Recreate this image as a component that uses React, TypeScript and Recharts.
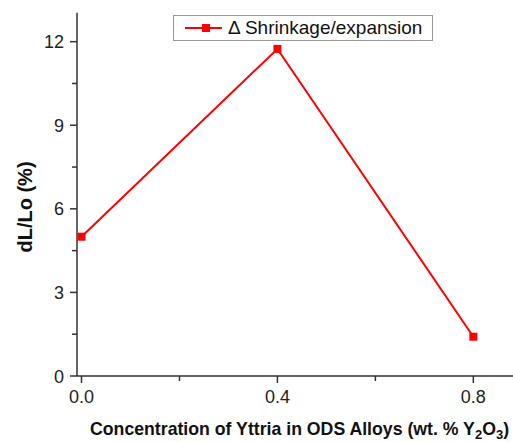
import { LineChart, Line, XAxis, YAxis, Label } from 'recharts'

const concentrations = [0, 0.4, 0.8]
const shrinkage = [5.0, 11.74, 1.41]
const xTicks = [0, 0.2, 0.4, 0.6, 0.8]
const xLabeled = [0, 0.4, 0.8]
const yTicks = [0, 1.5, 3, 4.5, 6, 7.5, 9, 10.5, 12]
const yLabeled = [0, 3, 6, 9, 12]
const seriesName = 'Δ Shrinkage/expansion'

const data = concentrations.map((c, i) => ({ x: c, y: shrinkage[i] }))

const FONT = 'Arial, "Liberation Sans", sans-serif'
const AXIS = '#333333'
const RED = '#ff0000'

function XTick({ x, y, payload }: any) {
  const major = xLabeled.includes(payload.value)
  return (
    <g>
      <line x1={x} x2={x} y1={y} y2={y + (major ? 7 : 5)} stroke={AXIS} strokeWidth={1.5} />
      {major && (
        <text x={x} y={y + 27} textAnchor="middle" fontSize={18} fontFamily={FONT} fill="#222">
          {payload.value.toFixed(1)}
        </text>
      )}
    </g>
  )
}

function YTick({ x, y, payload }: any) {
  const major = yLabeled.includes(payload.value)
  return (
    <g>
      <line x1={x} x2={x - (major ? 7 : 5)} y1={y} y2={y} stroke={AXIS} strokeWidth={1.5} />
      {major && (
        <text x={x - 13} y={y + 6.5} textAnchor="end" fontSize={18} fontFamily={FONT} fill="#222">
          {payload.value}
        </text>
      )}
    </g>
  )
}

function Square({ cx, cy }: any) {
  if (cx == null || cy == null) return null
  return <rect x={cx - 4} y={cy - 4} width={8} height={8} fill={RED} />
}

function LegendBox() {
  return (
    <div
      style={{
        position: 'absolute',
        left: 173,
        top: 14.7,
        width: 258,
        height: 24,
        border: '1px solid #999',
        background: '#fff',
        display: 'flex',
        alignItems: 'center',
        fontFamily: FONT,
        fontSize: 19,
        color: '#111',
        whiteSpace: 'nowrap',
      }}
    >
      <svg width={52} height={24} style={{ flex: 'none' }}>
        <line x1={11} x2={48} y1={12} y2={12} stroke={RED} strokeWidth={2} />
        <rect x={28} y={8} width={8} height={8} fill={RED} />
      </svg>
      <span style={{ marginLeft: 2 }}>{seriesName}</span>
    </div>
  )
}

function XTitle() {
  return (
    <text x={90} y={435} fontSize={17.7} fontWeight="bold" fontFamily={FONT} fill="#111">
      Concentration of Yttria in ODS Alloys (wt. % Y
      <tspan fontSize={13} dy={3.5}>2</tspan>
      <tspan dy={-3.5}>O</tspan>
      <tspan fontSize={13} dy={3.5}>3</tspan>
      <tspan dy={-3.5}>)</tspan>
    </text>
  )
}

function YTitle() {
  return (
    <text
      x={0}
      y={0}
      transform="translate(32, 207) rotate(-90)"
      textAnchor="middle"
      fontSize={20}
      fontWeight="bold"
      fontFamily={FONT}
      fill="#111"
    >
      dL/Lo (%)
    </text>
  )
}

export default function App() {
  return (
    <div style={{ position: 'absolute', left: 0, top: 0, width: 513, height: 442, background: '#fff' }}>
      <LineChart width={513} height={442} data={data} margin={{ top: 12.7, right: 0, bottom: 0, left: 0 }}>
        <XAxis
          dataKey="x"
          type="number"
          domain={[-0.0092, 0.881]}
          ticks={xTicks}
          interval={0}
          allowDataOverflow
          height={66}
          stroke={AXIS}
          strokeWidth={1.5}
          tickLine={false}
          tickSize={0}
          tickMargin={0}
          tick={<XTick />}
        >
          <Label content={<XTitle />} />
        </XAxis>
        <YAxis
          type="number"
          domain={[0, 13.04]}
          ticks={yTicks}
          interval={0}
          allowDataOverflow
          width={77}
          stroke={AXIS}
          strokeWidth={1.5}
          tickLine={false}
          tickSize={0}
          tickMargin={0}
          tick={<YTick />}
        >
          <Label content={<YTitle />} />
        </YAxis>
        <Line
          dataKey="y"
          name={seriesName}
          stroke={RED}
          strokeWidth={2}
          dot={<Square />}
          activeDot={false}
          isAnimationActive={false}
        />
      </LineChart>
      <LegendBox />
    </div>
  )
}
